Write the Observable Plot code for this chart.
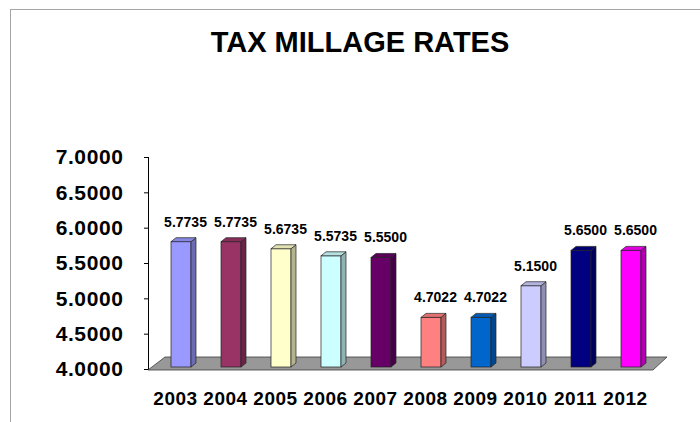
<!DOCTYPE html>
<html>
<head>
<meta charset="utf-8">
<script src="https://cdn.jsdelivr.net/npm/d3@7"></script>
<script src="https://cdn.jsdelivr.net/npm/@observablehq/plot@0.6"></script>
<style>
html, body { margin: 0; padding: 0; background: #fff; }
#wrap { position: relative; width: 700px; height: 422px; overflow: hidden; font-family: "Liberation Sans", Arial, sans-serif; }
#frame { position: absolute; left: 10px; top: 9px; width: 800px; height: 600px; border-top: 1px solid #a6a6a6; border-left: 1px solid #a6a6a6; }
#title { position: absolute; left: 10px; width: 700px; top: 28px; text-align: center; font-size: 29px; font-weight: bold; line-height: 1; color: #000; }
#chart { position: absolute; left: 0; top: 0; }
#chart svg text { font-weight: bold; }
#chart g[aria-label="y-axis"] text, #chart g[aria-label="y-axis tick label"] text { font-size: 21px; letter-spacing: 0.6px; }
#chart g[aria-label="x-axis"] text, #chart g[aria-label="x-axis tick label"] text { font-size: 19px; letter-spacing: 0.5px; }
</style>
</head>
<body>
<div id="wrap">
  <div id="frame"></div>
  <div id="title">TAX MILLAGE RATES</div>
  <div id="chart"></div>
</div>
<script>
const years = ["2003", "2004", "2005", "2006", "2007", "2008", "2009", "2010", "2011", "2012"];
const rates = [5.7735, 5.7735, 5.6735, 5.5735, 5.5500, 4.7022, 4.7022, 5.1500, 5.6500, 5.6500];
const colors = ["#9999FF", "#993366", "#FFFFCC", "#CCFFFF", "#660066", "#FF8080", "#0066CC", "#CCCCFF", "#000080", "#FF00FF"];
const yTicks = [4, 4.5, 5, 5.5, 6, 6.5, 7];

const data = years.map((year, i) => ({year, rate: rates[i], color: colors[i]}));

// 3D look parameters (styling only)
const SHIFT_X = 6, SHIFT_Y = -2, FRONT = 20, DEPTH_X = 5, DEPTH_Y = 4;

function floorMark(index, scales) {
  const x = scales.x, y = scales.y;
  const [r0, r1] = x.range();
  const yb = y(4);
  const g = d3.create("svg:g");
  g.append("path")
    .attr("d", `M${r0 - 2},${yb + 1}L${r0 + 15},${yb - 12}L${r1 + 17},${yb - 12}L${r1 + 3},${yb + 1}Z`)
    .attr("fill", "#989898")
    .attr("stroke", "#3a3a3a")
    .attr("stroke-width", 0.8);
  return g.node();
}

function facesMark(index, scales) {
  const x = scales.x, y = scales.y;
  const bw = x.bandwidth();
  const g = d3.create("svg:g");
  for (const d of data) {
    const xl = x(d.year) + bw / 2 + SHIFT_X - FRONT / 2;
    const xr = xl + FRONT;
    const yt = y(d.rate) + SHIFT_Y;
    const yb = y(4) + SHIFT_Y;
    const c = d3.color(d.color);
    g.append("path")
      .attr("d", `M${xr},${yb}L${xr + DEPTH_X},${yb - DEPTH_Y}L${xr + DEPTH_X},${yt - DEPTH_Y}L${xr},${yt}Z`)
      .attr("fill", c.darker(1).formatHex())
      .attr("stroke", "#222")
      .attr("stroke-width", 0.7);
    g.append("path")
      .attr("d", `M${xl},${yt}L${xl + DEPTH_X},${yt - DEPTH_Y}L${xr + DEPTH_X},${yt - DEPTH_Y}L${xr},${yt}Z`)
      .attr("fill", c.darker(0.35).formatHex())
      .attr("stroke", "#222")
      .attr("stroke-width", 0.7);
  }
  return g.node();
}

const chart = Plot.plot({
  width: 700,
  height: 422,
  marginTop: 157,
  marginBottom: 53,
  marginLeft: 148,
  marginRight: 50,
  style: {fontFamily: "'Liberation Sans', Arial, sans-serif", fontWeight: "bold", color: "#000", background: "transparent", overflow: "visible"},
  x: {domain: years, range: [150, 650], padding: 0, tickSize: 0, tickPadding: 22, label: null},
  y: {domain: [4, 7], ticks: yTicks, tickFormat: d => d.toFixed(4), tickSize: 4, tickPadding: 21, line: true, label: null},
  marks: [
    floorMark,
    Plot.barY(data, {x: "year", y1: 4, y2: "rate", fill: "color", stroke: "#222", strokeWidth: 0.7,
      insetLeft: 15, insetRight: 15, dx: SHIFT_X, dy: SHIFT_Y}),
    facesMark,
    Plot.text(data, {x: "year", y: "rate", text: d => d.rate.toFixed(4), dx: 10, dy: -22,
      fontSize: 14, fontWeight: "bold", fill: "#000"})
  ]
});
document.getElementById("chart").appendChild(chart);
</script>
</body>
</html>
